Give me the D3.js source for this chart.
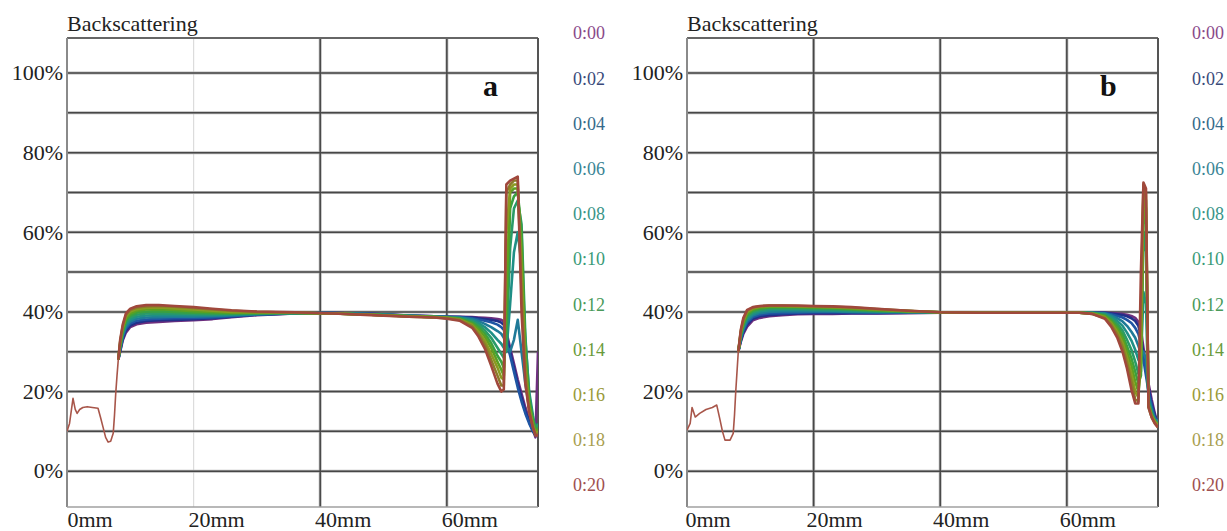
<!DOCTYPE html>
<html>
<head>
<meta charset="utf-8">
<script src="https://cdn.jsdelivr.net/npm/d3@7/dist/d3.min.js"></script>
<style>
  html, body { margin: 0; padding: 0; background: #fff; }
  svg { display: block; }
</style>
</head>
<body>
<svg id="chart" width="1227" height="531" font-family="'Liberation Serif', 'DejaVu Serif', serif"></svg>
<script>
// Scan times and the colour used for each profile
const timeLabels = ["0:00", "0:02", "0:04", "0:06", "0:08", "0:10", "0:12", "0:14", "0:16", "0:18", "0:20"];
const lineColors = ["#6e2f7e", "#22308a", "#1f55a3", "#1f7a98", "#1f8f86", "#2a9a68", "#3aa040", "#5ca022", "#8a9a22", "#8c7a2a", "#a0483c"];
const legendColors = ["#8a4a8a", "#3a4a7a", "#356a8a", "#3a8494", "#3a9488", "#3a9a78", "#4a9a5a", "#6a9a3a", "#9a9a3a", "#a89e50", "#a05050"];

// Axis ticks
const yGrid = [0, 10, 20, 30, 40, 50, 60, 70, 80, 90, 100];
const yTicks = [0, 20, 40, 60, 80, 100];
const xTicks = [0, 20, 40, 60];

// ---- Panel a : height (mm) and backscattering (%) ----
// bottom part of the tube, shared by every scan
const aLeadX = [0, 0.4, 0.95, 1.3, 1.6, 2.0, 2.5, 3.2, 4.0, 4.9, 5.3, 5.7, 6.1, 6.5, 6.9, 7.3, 7.5, 7.7, 7.9, 8.1];
const aLeadV = [10, 12, 18.3, 15.5, 14.5, 15.5, 16, 16.2, 16, 15.8, 13.5, 11, 8.5, 7.3, 7.5, 9.5, 14, 19.6, 24, 28];
// middle of the tube
const aMidX = [8.4, 8.8, 9.3, 10, 11, 12.5, 14.5, 17, 20, 23, 26, 30, 36, 42, 48, 54, 58];
const aMidV = [
  [30.0, 32.8, 34.8, 36.2, 36.9, 37.3, 37.5, 37.7, 37.9, 38.2, 38.7, 39.2, 39.6, 39.7, 39.5, 39.1, 38.9],
  [30.2, 33.2, 35.3, 36.6, 37.3, 37.7, 37.9, 38.0, 38.2, 38.4, 38.8, 39.3, 39.6, 39.7, 39.5, 39.1, 38.9],
  [30.5, 33.6, 35.8, 37.1, 37.8, 38.1, 38.3, 38.4, 38.5, 38.6, 38.9, 39.3, 39.7, 39.7, 39.5, 39.0, 38.9],
  [30.8, 34.0, 36.3, 37.6, 38.3, 38.6, 38.7, 38.8, 38.8, 38.9, 39.1, 39.4, 39.7, 39.7, 39.4, 39.0, 38.8],
  [31.0, 34.4, 36.8, 38.1, 38.8, 39.1, 39.2, 39.2, 39.2, 39.2, 39.3, 39.5, 39.7, 39.6, 39.4, 39.0, 38.8],
  [31.3, 34.8, 37.3, 38.6, 39.3, 39.6, 39.7, 39.6, 39.5, 39.4, 39.5, 39.6, 39.7, 39.6, 39.4, 39.0, 38.8],
  [31.6, 35.2, 37.8, 39.1, 39.8, 40.1, 40.2, 40.0, 39.8, 39.7, 39.6, 39.7, 39.8, 39.6, 39.3, 38.9, 38.7],
  [31.9, 35.6, 38.3, 39.6, 40.3, 40.6, 40.7, 40.5, 40.2, 40.0, 39.8, 39.8, 39.8, 39.6, 39.3, 38.9, 38.7],
  [32.3, 36.0, 38.8, 40.1, 40.7, 41.0, 41.1, 40.9, 40.6, 40.3, 40.0, 39.9, 39.8, 39.6, 39.3, 38.9, 38.7],
  [32.6, 36.4, 39.2, 40.5, 41.1, 41.4, 41.5, 41.3, 41.0, 40.6, 40.3, 40.0, 39.8, 39.6, 39.3, 38.8, 38.6],
  [33.0, 36.8, 39.6, 40.8, 41.4, 41.7, 41.7, 41.5, 41.2, 40.8, 40.4, 40.1, 39.9, 39.6, 39.2, 38.8, 38.6]
];
// top of the tube
const aTailX = [60, 62, 64, 65, 66, 67, 68, 68.6, 69.0, 69.4, 70.0, 70.6, 71.2, 71.8, 72.4, 73.0, 73.6, 74.0, 74.4];
const aTailV = [
  [38.8, 38.8, 38.7, 38.6, 38.5, 38.4, 38.2, 38.0, 37.6, 35.0, 31.0, 27.0, 23.0, 19.5, 16.0, 13.0, 10.5, 8.5, 30.0],
  [38.8, 38.7, 38.6, 38.4, 38.2, 38.0, 37.7, 37.3, 36.8, 34.0, 30.0, 26.0, 22.0, 18.5, 15.0, 12.5, 10.0, 9.0, 12.0],
  [38.8, 38.7, 38.4, 38.1, 37.8, 37.4, 36.8, 36.2, 35.5, 32.5, 29.0, 25.0, 21.0, 17.5, 14.5, 12.0, 10.0, 9.0, 11.0],
  [38.7, 38.6, 38.2, 37.7, 37.0, 36.2, 35.2, 34.5, 33.5, 31.5, 30.0, 33.0, 38.0, 30.0, 22.0, 16.0, 12.0, 9.5, 10.5],
  [38.7, 38.5, 37.9, 37.2, 36.2, 34.8, 33.0, 32.0, 31.0, 30.0, 42.0, 55.0, 60.0, 52.0, 33.0, 20.0, 14.0, 10.5, 11.0],
  [38.6, 38.4, 37.6, 36.7, 35.4, 33.5, 31.0, 29.5, 28.5, 31.0, 56.0, 66.0, 68.0, 62.0, 34.0, 19.0, 13.0, 10.5, 12.0],
  [38.6, 38.3, 37.3, 36.2, 34.6, 32.2, 29.0, 27.5, 26.0, 36.0, 66.0, 69.0, 70.0, 60.0, 30.0, 18.0, 13.0, 10.0, 11.0],
  [38.5, 38.2, 37.0, 35.6, 33.8, 31.0, 27.5, 25.5, 24.0, 45.0, 70.0, 71.0, 71.0, 55.0, 28.0, 17.0, 12.0, 10.0, 10.5],
  [38.5, 38.1, 36.7, 35.0, 32.8, 29.5, 26.0, 23.5, 23.0, 60.0, 71.0, 72.0, 72.0, 50.0, 26.0, 16.0, 11.5, 9.5, 10.0],
  [38.4, 38.0, 36.4, 34.4, 31.8, 28.0, 24.0, 21.5, 21.5, 70.0, 72.0, 73.0, 73.0, 45.0, 24.0, 15.0, 11.0, 9.0, 9.5],
  [38.3, 37.8, 36.0, 33.8, 30.8, 26.5, 22.0, 20.0, 20.5, 72.0, 73.0, 73.5, 74.0, 40.0, 22.0, 15.0, 11.0, 9.0, 9.0]
];

// ---- Panel b ----
const bLeadX = [0, 0.5, 0.8, 1.3, 2.0, 3.0, 4.0, 4.7, 5.2, 5.6, 6.0, 6.8, 7.3, 7.5, 7.7, 7.9, 8.1];
const bLeadV = [10.3, 12, 16, 13.6, 14.5, 15.5, 16.0, 16.6, 13, 10, 7.8, 7.8, 9.5, 14, 20, 25, 30];
const bMidX = [8.5, 8.9, 9.5, 10.4, 11.5, 13, 15, 17.5, 20, 23, 26, 30, 35, 40, 46, 52, 58];
const bMidV = [
  [32.5, 34.5, 36.3, 37.9, 38.5, 38.9, 39.2, 39.4, 39.5, 39.5, 39.6, 39.6, 39.7, 39.8, 39.8, 39.8, 39.8],
  [32.8, 34.9, 36.8, 38.3, 38.9, 39.2, 39.4, 39.6, 39.7, 39.7, 39.7, 39.7, 39.8, 39.8, 39.8, 39.8, 39.8],
  [33.1, 35.3, 37.3, 38.7, 39.3, 39.6, 39.7, 39.8, 39.9, 39.9, 39.9, 39.8, 39.8, 39.8, 39.8, 39.8, 39.8],
  [33.4, 35.7, 37.8, 39.1, 39.7, 40.0, 40.1, 40.1, 40.1, 40.1, 40.0, 39.9, 39.9, 39.8, 39.8, 39.8, 39.8],
  [33.7, 36.1, 38.3, 39.5, 40.1, 40.4, 40.5, 40.5, 40.4, 40.3, 40.2, 40.1, 40.0, 39.9, 39.8, 39.8, 39.8],
  [34.0, 36.5, 38.8, 39.9, 40.5, 40.8, 40.9, 40.8, 40.7, 40.6, 40.4, 40.2, 40.0, 39.9, 39.8, 39.8, 39.8],
  [34.3, 36.9, 39.2, 40.3, 40.8, 41.1, 41.2, 41.1, 41.0, 40.9, 40.6, 40.3, 40.1, 39.9, 39.8, 39.8, 39.8],
  [34.6, 37.3, 39.6, 40.6, 41.1, 41.3, 41.4, 41.3, 41.2, 41.1, 40.8, 40.5, 40.2, 39.9, 39.8, 39.8, 39.8],
  [34.9, 37.7, 40.0, 40.9, 41.3, 41.5, 41.5, 41.4, 41.3, 41.2, 41.0, 40.6, 40.2, 39.9, 39.8, 39.8, 39.8],
  [35.2, 38.1, 40.3, 41.1, 41.4, 41.6, 41.6, 41.5, 41.4, 41.3, 41.1, 40.7, 40.3, 39.9, 39.8, 39.8, 39.8],
  [35.5, 38.5, 40.5, 41.2, 41.5, 41.6, 41.6, 41.6, 41.5, 41.4, 41.2, 40.8, 40.3, 39.9, 39.8, 39.8, 39.8]
];
const bTailX = [62, 64, 66, 67, 68, 68.8, 69.5, 70.2, 70.8, 71.3, 71.7, 72.1, 72.5, 72.9, 73.4, 73.9, 74.4];
const bTailV = [
  [39.8, 39.8, 39.8, 39.7, 39.6, 39.5, 39.3, 39.0, 38.5, 37.5, 35.5, 31.0, 26.5, 22.0, 18.0, 14.5, 11.5],
  [39.8, 39.8, 39.8, 39.6, 39.4, 39.2, 38.9, 38.4, 37.7, 36.5, 34.0, 29.5, 25.5, 21.0, 17.0, 14.0, 12.0],
  [39.8, 39.8, 39.7, 39.4, 39.0, 38.6, 38.0, 37.2, 36.0, 34.5, 32.0, 28.0, 24.0, 20.0, 16.5, 13.5, 12.5],
  [39.8, 39.8, 39.6, 39.1, 38.4, 37.6, 36.5, 35.0, 33.5, 31.5, 29.5, 30.0, 28.0, 19.0, 15.5, 13.0, 12.0],
  [39.8, 39.8, 39.5, 38.8, 37.7, 36.5, 34.8, 32.8, 30.5, 28.0, 27.0, 45.0, 42.0, 18.0, 15.0, 13.0, 12.5],
  [39.8, 39.7, 39.3, 38.4, 37.0, 35.3, 33.0, 30.5, 27.5, 24.5, 25.0, 60.0, 55.0, 17.5, 14.5, 12.5, 12.0],
  [39.8, 39.7, 39.1, 38.0, 36.3, 34.2, 31.4, 28.4, 25.0, 22.0, 24.0, 66.0, 62.0, 17.0, 14.0, 12.5, 11.5],
  [39.8, 39.6, 38.9, 37.6, 35.6, 33.2, 30.0, 26.5, 22.5, 20.0, 26.0, 70.0, 66.0, 16.5, 14.0, 12.5, 11.5],
  [39.8, 39.6, 38.7, 37.2, 34.9, 32.2, 28.6, 24.5, 20.0, 18.5, 30.0, 71.0, 68.0, 16.5, 14.0, 12.5, 11.5],
  [39.8, 39.5, 38.5, 36.8, 34.2, 31.2, 27.2, 22.5, 18.0, 17.5, 40.0, 72.0, 70.0, 16.0, 13.5, 12.0, 11.0],
  [39.8, 39.5, 38.3, 36.3, 33.4, 30.0, 25.8, 20.5, 17.0, 17.0, 50.0, 72.5, 71.0, 16.0, 13.5, 12.0, 11.0]
];

const svg = d3.select("#chart");
const serif = "'Liberation Serif', 'DejaVu Serif', serif";

function zipPoints(xs, vs) { return xs.map((x, i) => [x, vs[i]]); }

function drawPanel(opt) {
  const x = d3.scaleLinear().domain([0, 74.4]).range([opt.left, opt.left + 471]);
  const y = d3.scaleLinear().domain([-9, 108.8]).range([507, 38]);
  const g = svg.append("g").attr("font-family", serif);
  const x0 = x.range()[0], x1 = x.range()[1];
  const y0 = y.range()[1], y1 = y.range()[0];

  // light vertical gridlines
  g.selectAll("line.vlight").data(xTicks.filter(d => opt.lightX.includes(d)))
    .join("line").attr("x1", d => x(d)).attr("x2", d => x(d)).attr("y1", y0).attr("y2", y1)
    .attr("stroke", "#dcdcdc").attr("stroke-width", 1.2);

  // dark gridlines drawn with a soft halo
  const hLines = yGrid;
  const vDark = xTicks.filter(d => d > 0 && !opt.lightX.includes(d));
  [["#b8b8b8", 3], ["#474747", 1.5]].forEach(([c, w]) => {
    g.append("g").selectAll("line").data(hLines).join("line")
      .attr("x1", x0).attr("x2", x1).attr("y1", d => y(d)).attr("y2", d => y(d))
      .attr("stroke", c).attr("stroke-width", w);
    g.append("g").selectAll("line").data(vDark).join("line")
      .attr("x1", d => x(d)).attr("x2", d => x(d)).attr("y1", y0).attr("y2", y1)
      .attr("stroke", c).attr("stroke-width", w);
  });

  // frame
  g.append("line").attr("x1", x0).attr("x2", x1).attr("y1", y0).attr("y2", y0).attr("stroke", "#666").attr("stroke-width", 2);
  g.append("line").attr("x1", x1).attr("x2", x1).attr("y1", y0).attr("y2", y1).attr("stroke", "#555").attr("stroke-width", 2);
  g.append("line").attr("x1", x0).attr("x2", x0).attr("y1", y0).attr("y2", y1).attr("stroke", "#8a8a8a").attr("stroke-width", 2);
  g.append("line").attr("x1", x0).attr("x2", x1).attr("y1", y1).attr("y2", y1).attr("stroke", "#a0a0a0").attr("stroke-width", 1.5);

  // profiles
  const clipId = "clip" + opt.name;
  svg.append("clipPath").attr("id", clipId).append("rect")
    .attr("x", x0).attr("y", y0).attr("width", x1 - x0).attr("height", y1 - y0);
  const line = d3.line().x(d => x(d[0])).y(d => y(d[1])).curve(d3.curveLinear);
  const lead = zipPoints(opt.leadX, opt.leadV);
  const leadEnd = lead[lead.length - 1];
  const series = timeLabels.map((t, i) =>
    [leadEnd]
      .concat(zipPoints(opt.midX, opt.midV[i]))
      .concat(zipPoints(opt.tailX, opt.tailV[i])));
  const plot = g.append("g").attr("clip-path", `url(#${clipId})`);
  plot.selectAll("path.scan").data(series).join("path")
    .attr("class", "scan")
    .attr("d", line).attr("fill", "none")
    .attr("stroke", (d, i) => lineColors[i]).attr("stroke-width", 2.6)
    .attr("stroke-linejoin", "round");
  // bottom section where all scans coincide: the last scan lies on top
  plot.append("path").datum(lead)
    .attr("d", line).attr("fill", "none")
    .attr("stroke", "#a8564a").attr("stroke-width", 1.6)
    .attr("stroke-linejoin", "round");

  // y labels
  g.selectAll("text.ylab").data(yTicks).join("text")
    .attr("x", x0 - 4).attr("y", d => y(d)).attr("dy", "0.33em")
    .attr("text-anchor", "end").attr("font-size", 22).attr("fill", "#222")
    .text(d => d + "%");
  // x labels
  g.selectAll("text.xlab").data(xTicks).join("text")
    .attr("x", d => x(d) + opt.xLabShift).attr("y", 527)
    .attr("text-anchor", "middle").attr("font-size", 22).attr("fill", "#222")
    .text(d => d + "mm");

  // title and panel letter
  g.append("text").attr("x", x0).attr("y", 31).attr("font-size", 22).attr("fill", "#222").text("Backscattering");
  g.append("text").attr("x", opt.letterX).attr("y", 96).attr("font-size", 30)
    .attr("font-weight", "bold").attr("fill", "#111").text(opt.name);

  // time legend
  g.selectAll("text.leg").data(timeLabels).join("text")
    .attr("x", opt.legendX).attr("y", (d, i) => 33 + i * 45.2).attr("dy", "0.35em")
    .attr("font-size", 18).attr("fill", (d, i) => legendColors[i])
    .text(d => d);
}

drawPanel({ name: "a", left: 67, lightX: [20], xLabShift: 23, letterX: 483, legendX: 573,
  leadX: aLeadX, leadV: aLeadV, midX: aMidX, midV: aMidV, tailX: aTailX, tailV: aTailV });
drawPanel({ name: "b", left: 687, lightX: [], xLabShift: 21, letterX: 1100, legendX: 1192,
  leadX: bLeadX, leadV: bLeadV, midX: bMidX, midV: bMidV, tailX: bTailX, tailV: bTailV });
</script>
</body>
</html>
